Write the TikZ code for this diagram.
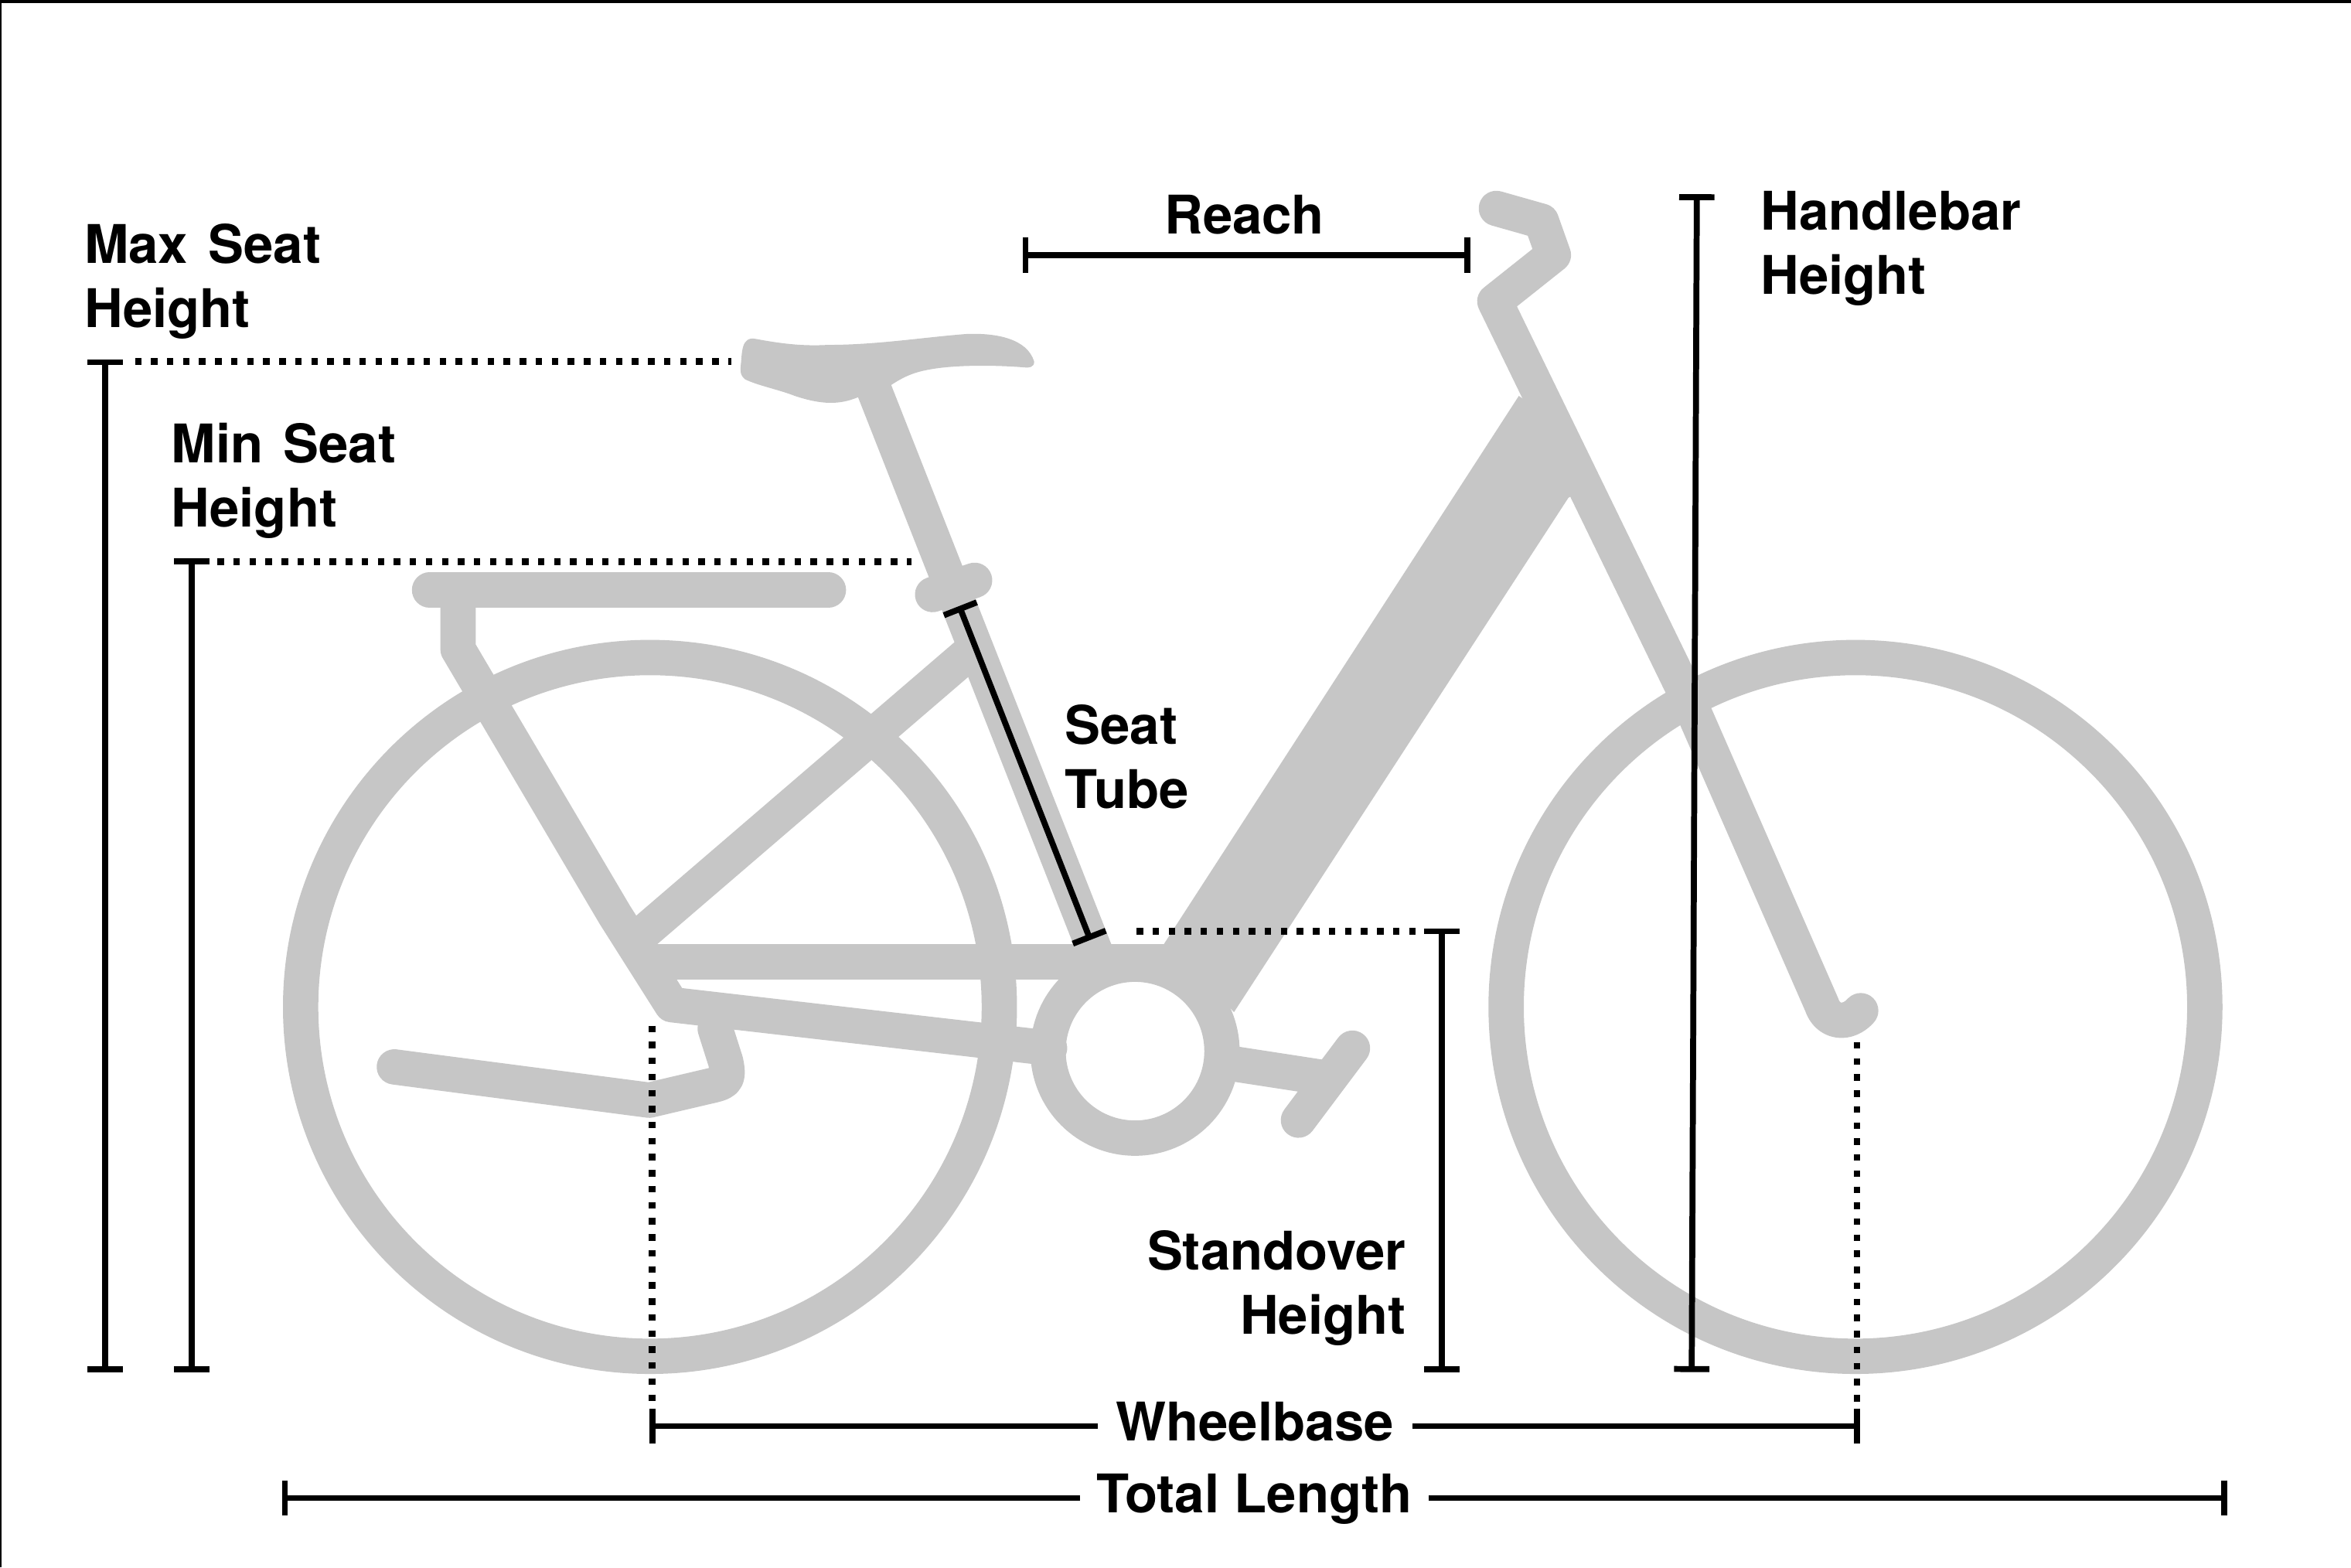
\documentclass[tikz,border=0pt]{standalone}
\usepackage{fontspec}
\setmainfont{TeX Gyre Heros}
\usetikzlibrary{arrows.meta}
\definecolor{framegray}{HTML}{C6C6C6}
\tikzset{
  tube/.style={draw=framegray, line width=13pt, line cap=round, line join=round},
  tubefill/.style={fill=framegray, draw=none},
  dimline/.style={draw=black, line width=2.2pt, shorten <=-1.1pt, shorten >=-1.1pt, {Bar[width=13pt,line width=2.2pt]}-{Bar[width=13pt,line width=2.2pt]}},
  dimleft/.style={draw=black, line width=2.2pt, shorten <=-1.1pt, {Bar[width=13pt,line width=2.2pt]}-},
  dimright/.style={draw=black, line width=2.2pt, shorten >=-1.1pt, -{Bar[width=13pt,line width=2.2pt]}},
  dotline/.style={draw=black, line width=2.4pt, dash pattern=on 2.4pt off 3.5pt},
  lab/.style={font=\fontsize{19.6}{23.6}\selectfont\bfseries, inner sep=0pt, align=left},
  labr/.style={lab, align=right},
}
\begin{document}
\begin{tikzpicture}[x=0.01939cm, y=-0.01939cm]
    \useasboundingbox (0, 0) rectangle (1568, 1045.2);
    % border
    \fill [black]    (0, 0) rectangle (1568, 2);
    \fill [black]    (0, 0) rectangle (1, 1045.2);
    % wheels
    \coordinate (rearhub)  at (433.5, 671.5);
    \coordinate (fronthub) at (1237.5, 671.5);
    \coordinate (bbcentre) at (757, 701);
    \draw [tube]     (rearhub) circle (233);
    \draw [tube]     (fronthub) circle (233);
    \draw [tube]     (bbcentre) circle (58);
    % rear frame
    \draw [tube]     (286.5, 393.5) -- (552.5, 393.5);
    \draw [tube]     (305.5, 395) -- (305.5, 433) -- (410, 610) -- (448, 670) -- (700, 699);
    \draw [tube]     (432, 641.5) -- (780, 641.5);
    \draw [tube]     (428, 623) -- (648, 434);
    \draw [tube]     (583, 260) -- (731, 636);
    \draw [tube]     (622, 396.5) -- (650, 387);
    % saddle
    \fill [tubefill] (504, 226) .. controls (520, 229) and (535, 231) .. (552, 230)
        .. controls (585, 230) and (615, 225) .. (645, 222.7)
        .. controls (665, 222) and (685, 226) .. (689.7, 241)
        .. controls (690, 245) and (686, 245.5) .. (683, 245)
        .. controls (665, 243.5) and (635, 243) .. (617, 247)
        .. controls (607, 249) and (600, 253) .. (594, 257)
        -- (572, 265) .. controls (560, 270) and (548, 270) .. (530, 264)
        .. controls (520, 260) and (505, 257) .. (497, 253)
        .. controls (493, 250) and (494, 246) .. (494, 244)
        .. controls (495, 236) and (494, 224) .. (504, 226) -- cycle;
    % kickstand
    \draw [tube]     (263, 711.5) -- (433, 733.7) -- (470, 725)
        .. controls (483, 722) and (487, 722) .. (484, 708) -- (477, 686);
    % main frame
    \fill [tubefill] (1013, 264) -- (1035, 280) -- (1058, 325) -- (1046, 332)
        -- (823, 675) -- (800, 650) -- (776, 630) -- cycle;
    \draw [tube]     (998, 139) -- (1028, 147.5) -- (1036, 170) -- (997, 201) -- (1124, 462)
        -- (1215, 670) .. controls (1219, 682) and (1232, 684) .. (1241, 674);
    % crank
    \draw [tube]     (820, 709) -- (885, 719);
    \draw [tube]     (902, 699) -- (866, 747);
    % Max Seat Height
    \node [lab, anchor=north west] (maxlabel) at (56, 149) {Max\hspace{2pt} Seat\\Height};
    \coordinate (maxtop) at (70, 241.5);
    \coordinate (maxbot) at (70, 913);
    \coordinate (maxdot) at (90, 241);
    \coordinate (saddleend) at (488, 241);
    \draw [dimline]  (maxtop) -- (maxbot);
    \draw [dotline]  (maxdot) -- (saddleend);
    % Min Seat Height
    \node [lab, anchor=north west] (minlabel) at (114, 282) {Min\hspace{2pt} Seat\\Height};
    \coordinate (mintop) at (128, 374.5);
    \coordinate (minbot) at (128, 913);
    \coordinate (mindot) at (145, 374.5);
    \coordinate (clampend) at (608, 374.5);
    \draw [dimline]  (mintop) -- (minbot);
    \draw [dotline]  (mindot) -- (clampend);
    % Reach
    \node [lab, anchor=base] (reachlabel) at (830, 156) {Reach};
    \coordinate (reachl) at (684, 170);
    \coordinate (reachr) at (978.5, 170);
    \draw [dimline]  (reachl) -- (reachr);
    % Handlebar Height
    \node [lab, anchor=north west] (barlabel) at (1174, 127) {Handlebar\\Height};
    \coordinate (bartop) at (1131.7, 131.5);
    \coordinate (barbot) at (1128.3, 913);
    \draw [dimline]  (bartop) -- (barbot);
    % Seat Tube
    \node [lab, anchor=north west] (seatlabel) at (710, 469.5) {Seat\\Tube};
    \coordinate (tubetop) at (640.5, 406);
    \coordinate (tubebot) at (726.5, 625);
    \draw [dimline]  (tubetop) -- (tubebot);
    % Standover Height
    \node [labr, anchor=north east] (standlabel) at (938, 820) {Standover\\Height};
    \coordinate (standtop) at (961.5, 621);
    \coordinate (standbot) at (961.5, 913);
    \coordinate (standdot) at (758, 621);
    \coordinate (standend) at (946, 621);
    \draw [dimline]  (standtop) -- (standbot);
    \draw [dotline]  (standdot) -- (standend);
    % Wheelbase
    \node [lab, anchor=base, inner xsep=6.5pt] (wheellabel) at (837, 961) {Wheelbase};
    \coordinate (wheell) at (435, 951);
    \coordinate (wheelr) at (1238.5, 951);
    \coordinate (reardrop) at (435, 684);
    \coordinate (rearfoot) at (435, 938);
    \coordinate (frontdrop) at (1238.5, 695);
    \coordinate (frontfoot) at (1238.5, 938);
    \draw [dimleft]  (wheell) -- (wheellabel.west |- wheell);
    \draw [dimright] (wheellabel.east |- wheelr) -- (wheelr);
    \draw [dotline]  (reardrop) -- (rearfoot);
    \draw [dotline]  (frontdrop) -- (frontfoot);
    % Total Length
    \node [lab, anchor=base, inner xsep=6pt] (totallabel) at (836.5, 1009) {Total Length};
    \coordinate (totall) at (190, 999);
    \coordinate (totalr) at (1483.5, 999);
    \draw [dimleft]  (totall) -- (totallabel.west |- totall);
    \draw [dimright] (totallabel.east |- totalr) -- (totalr);
\end{tikzpicture}
\end{document}
